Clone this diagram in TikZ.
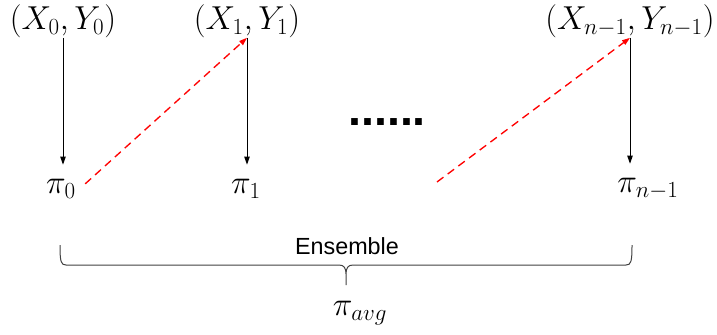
\documentclass[tikz,border=0pt]{standalone}
\usepackage{amsmath,amssymb}
\usepackage{fontspec}
\newfontfamily\labelfont{Liberation Sans}
\usetikzlibrary{arrows.meta}

\begin{document}
\begin{tikzpicture}[x=0.75pt,y=-0.75pt,
  pair/.style={inner sep=0pt,font=\fontsize{23}{27}\selectfont},
  pol/.style={inner sep=0pt,outer xsep=7pt,outer ysep=11pt,font=\fontsize{23}{27}\selectfont},
  fit arrow/.style={line width=0.75pt,-{Triangle[length=6pt,width=4pt]}},
  pass arrow/.style={red,line width=1pt,dash pattern=on 6pt off 4pt,-{Triangle[length=6pt,width=4pt]}}]
\useasboundingbox (0,0) rectangle (717,335);
\node[pair] (p0) at (63,21) {\((X_0,Y_0)\)};
\node[pair] (p1) at (247,21) {\((X_1,Y_1)\)};
\node[pair] (pn) at (630,21) {\((X_{n-1},Y_{n-1})\)};
\node[pol] (pi0) at (61,189) {\(\pi_0\)};
\node[pol] (pi1) at (246,189) {\(\pi_1\)};
\node[pol] (pin) at (648,189) {\(\pi_{n-1}\)};
\node[inner sep=0pt,font=\labelfont\bfseries\fontsize{35}{40}\selectfont] (dots) at (387,122) {......};
\coordinate (gap) at (437,182);
\draw[fit arrow] (p0.south) -- (p0.south |- pi0.north);
\draw[fit arrow] (p1.south) -- (p1.south |- pi1.north);
\draw[fit arrow] (pn.south) -- (pn.south |- pin.north);
\draw[pass arrow] (pi0.12) -- (p1.south);
\draw[pass arrow] (gap) -- (pn.south);
% brace
\draw[line width=0.75pt,black!75] (60,245) .. controls (60,262) and (61,265) .. (66,265) -- (339,265)
  .. controls (344,265) and (346,268) .. (346,274) -- (346,285)
  (346,274) .. controls (346,268) and (348,265) .. (353,265) -- (626,265)
  .. controls (631,265) and (632,262) .. (632,245);
\node[inner sep=0pt,font=\labelfont\fontsize{17.5}{20}\selectfont] (ens) at (347,246) {Ensemble};
\node[inner sep=0pt,font=\fontsize{23}{27}\selectfont] (avg) at (360,313) {\(\pi_{avg}\)};
\end{tikzpicture}
\end{document}
